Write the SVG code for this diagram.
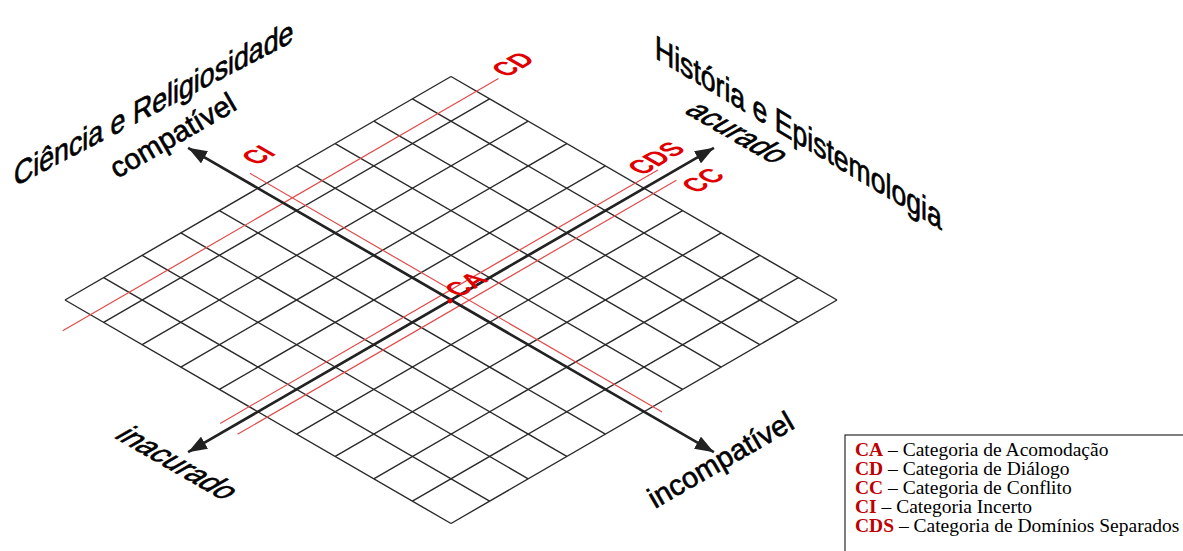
<svg xmlns="http://www.w3.org/2000/svg" width="1183" height="551" viewBox="0 0 1183 551">
<style>
.g{stroke:#2a2a2a;stroke-width:1.4;fill:none}
.r{stroke:#e24a4a;stroke-width:1.2;fill:none}
.ax{stroke:#222;stroke-width:2.7;fill:none;marker-start:url(#ah);marker-end:url(#ah)}
.t{font-family:"Liberation Sans",Arial,sans-serif;font-size:29px;fill:#000;stroke:#000;stroke-width:0.6}
.rl{font-family:"Liberation Sans",Arial,sans-serif;font-size:24.5px;font-weight:bold;fill:#e00000}
.lg{font-family:"Liberation Serif","Times New Roman",serif;font-size:19.5px;fill:#000}
.lb{font-weight:bold;fill:#c00000}
</style>
<defs>
<marker id="ah" markerUnits="userSpaceOnUse" markerWidth="21" markerHeight="14" refX="19" refY="7" orient="auto-start-reverse"><path d="M0,0 L19,7 L0,14 z" fill="#222"/></marker>
</defs>
<g id="grid">
<path class="g" d="M65,300L451,523.5M103.6,277.65L489.6,501.15M142.2,255.3L528.2,478.8M180.8,232.95L566.8,456.45M219.4,210.6L605.4,434.1M258,188.25L644,411.75M296.6,165.9L682.6,389.4M335.2,143.55L721.2,367.05M373.8,121.2L759.8,344.7M412.4,98.85L798.4,322.35M451,76.5L837,300"/>
<path class="g" d="M65,300L451,76.5M103.6,322.35L489.6,98.85M142.2,344.7L528.2,121.2M180.8,367.05L566.8,143.55M219.4,389.4L605.4,165.9M258,411.75L644,188.25M296.6,434.1L682.6,210.6M335.2,456.45L721.2,232.95M373.8,478.8L759.8,255.3M412.4,501.15L798.4,277.65M451,523.5L837,300"/>
</g>
<g id="category-lines">
<line class="r" x1="62.7" y1="330.8" x2="498.5" y2="78.5"/>
<line class="r" x1="220.2" y1="423.4" x2="657.9" y2="169.9"/>
<line class="r" x1="237.5" y1="434.3" x2="676.4" y2="180.2"/>
<line class="r" x1="249.9" y1="173.3" x2="662.1" y2="412"/>
</g>
<g id="connectors">
<line class="ax" x1="188.1" y1="147.8" x2="713.9" y2="452.2"/>
<line class="ax" x1="188.1" y1="452.2" x2="713.9" y2="147.8"/>
</g>
<g id="axis-titles">
<text class="t" font-size="32.5" transform="translate(14,187) rotate(-27.5) skewX(-27.5) scale(1.04,1)">Ciência e Religiosidade</text>
<text class="t" font-size="32.5" transform="translate(655,58) rotate(31) skewX(31) scale(1.07,1)">História e Epistemologia</text>
</g>
<g id="axis-labels">
<text class="t" font-size="32" transform="translate(117,179) rotate(-30)">compatível</text>
<text class="t" font-size="32.5" transform="translate(655,509) rotate(-30)">incompatível</text>
<text class="t" transform="translate(683,112) rotate(30) skewX(-30)">acurado</text>
<text class="t" transform="translate(113,437) rotate(30) skewX(-30)">inacurado</text>
</g>
<g id="category-labels">
<text class="rl" transform="translate(506,78) rotate(-30) skewX(30)">CD</text>
<text class="rl" transform="translate(256,166) rotate(-30) skewX(30)">CI</text>
<text class="rl" transform="translate(642,176) rotate(-30) skewX(30)">CDS</text>
<text class="rl" transform="translate(696,194) rotate(-30) skewX(30)">CC</text>
<text class="rl" transform="translate(459,298) rotate(-30) skewX(30)">CA</text>
<circle cx="450" cy="301" r="2.4" fill="#e00000"/>
</g>
<g id="legend">
<rect x="845" y="435" width="400" height="140" fill="#fff" stroke="#000" stroke-width="1"/>
<text class="lg" x="855" y="456"><tspan class="lb">CA</tspan> – Categoria de Acomodação</text>
<text class="lg" x="855" y="475"><tspan class="lb">CD</tspan> – Categoria de Diálogo</text>
<text class="lg" x="855" y="494"><tspan class="lb">CC</tspan> – Categoria de Conflito</text>
<text class="lg" x="855" y="513"><tspan class="lb">CI</tspan> – Categoria Incerto</text>
<text class="lg" x="855" y="532"><tspan class="lb">CDS</tspan> – Categoria de Domínios Separados</text>
</g>
</svg>
